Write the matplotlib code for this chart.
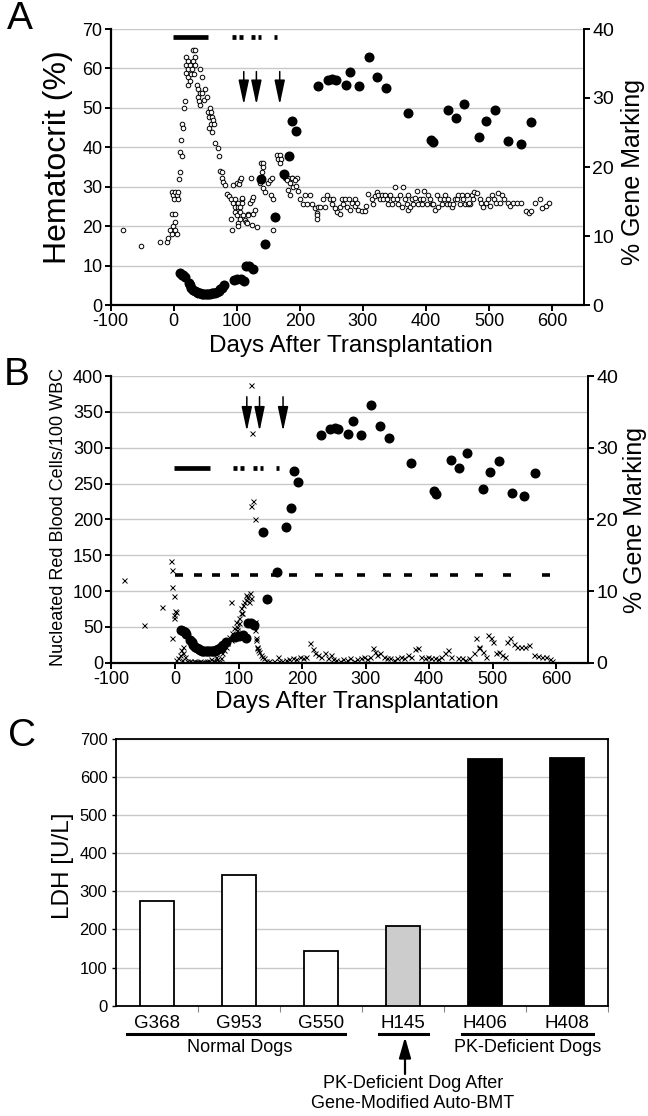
import matplotlib
matplotlib.use('Agg')
import matplotlib.pyplot as plt
from matplotlib.lines import Line2D

plt.rcParams['font.family'] = ['Liberation Sans', 'DejaVu Sans']
plt.rcParams['axes.unicode_minus'] = False

# ---------------- Panel A: hematocrit (open circles, left axis) ----------------
hct_day = [-80, -52, -22, -10, -9, -6, -3, -3, -3, -1, -1, 1, 2, 2, 2, 2, 5, 5, 7, 7, 8, 10,
           10, 11.5, 12.6, 13.6, 15.2, 16.8, 17.8, 18.9, 18.9, 20, 22, 23, 23, 23, 25.8, 25.8, 27.4,
           28.4, 31, 31, 32.6, 33.7, 33.7, 33.7, 36.3, 39, 39, 40, 41.6, 41.6, 41.6, 45.3, 45.3, 48,
           49.6, 52.2, 55, 56, 56, 57.5, 59, 59, 61, 61, 62.8, 64.4, 65.4, 69.6, 72.3, 73.9, 76.7,
           76, 78.6, 81.3, 83.9, 87.6, 90.8, 90.8, 92, 94.5, 94.5, 97, 97, 97, 99.8, 99.8, 101.4,
           101.4, 102.4, 102.4, 103.5, 105, 105, 105, 106.4, 107.7, 108.7, 105, 107.7, 110.4, 113,
           114.6, 115.6, 117.2, 118.3, 120.9, 122.3, 123.6, 123.6, 126.2, 126.2, 128.9, 131.5, 136.8,
           139.4, 138.8, 142.1, 140.7, 142.1, 144.7, 150, 152.6, 153.7, 155.3, 156.9, 157.9, 163.9,
           168.5, 165.9, 170.5, 169.2, 175.8, 180.4, 187, 194.9,
           171.7, 176.4, 179, 187, 192.3, 184.3, 189.6, 193.9, 181.7, 184.3, 197.6, 200.2, 208.2,
           216.1, 205.5, 210.8, 218.7, 224, 226.6, 229.3, 227.7, 226.6, 232, 236.2, 239.9, 242.5,
           247.8, 250.4, 253.1, 255.7, 258.4, 263.7, 263.7, 266.3, 271.6, 269, 274.3, 279.5, 278.5,
           282.2, 287.5, 287.5, 290, 292.7, 298, 303.3, 304.9, 308.6, 313.9, 316.5, 319.2, 321.9,
           324.5, 327, 329.8, 332, 335.1, 337.6, 340, 342.9, 345.6, 348, 350.9, 353.5, 356.2, 359,
           364.1, 361.5, 366.7, 369.4, 372.1, 372, 374.7, 377.4, 380, 382.6, 385.3, 388, 390.6, 393,
           394.9, 397, 401.2, 403.8, 406.5, 409, 411.8, 414.4, 417.1, 419.7, 422.4, 425, 427.7, 430,
           432.9, 435, 438.2, 440.9, 443.5, 446, 448.8, 451.4, 454.1, 456.7, 459.4, 462, 464.7,
           467.3, 470, 472.6, 475.3,
           467.9, 474.5, 481.1, 485, 487.7, 491, 494.3, 498.9, 501, 504.2, 507, 510.8, 514, 517.4,
           520, 524, 529.3, 533.9, 538, 543.8, 550.4, 558.4, 563.7, 567, 572.3, 580.2, 583.5,
           590.1, 595.4]
hct_val = [19, 15, 16, 16, 17, 19, 18, 23, 28.7, 20, 27.9, 26.9, 28.7, 23, 21, 19, 18, 27.9, 28.7,
           26.9, 32, 33.8,
           38.9, 41.8, 37.9, 45.8, 44.8, 49.9, 51.7, 58.8, 60.9, 62.8, 59.9, 61.9, 57.7, 55.8, 56.8,
           60.9, 58.7, 59.9, 61.9, 64.8, 58.7, 62.9, 60.9, 64.8, 55.8, 54.8, 52.8, 51.7, 59.9, 53.7,
           50.7, 57.7, 53.7, 52, 54.8, 52.8, 48.9, 47.8, 44.8, 49.9, 48.9, 45.8, 47.8, 43.8, 46.9,
           45.8, 41, 39.9, 37.9, 34, 33.7, 32.1, 31.3, 30.4, 28.2, 27.6, 26.8, 21.7, 19, 30.4, 25.8,
           26.8, 24.8, 23.7, 31, 22.8, 25.8, 20.9, 24.8, 20, 30.7, 31.7, 23.7, 21.7, 32.2, 26.8,
           25.8, 24.9, 27.1, 22.8, 21.6, 21.1, 20.7, 23.1, 22.8, 25.8, 32.2, 26.6, 20.3, 27.5, 23.2,
           24.1, 19.9, 30.9, 33.8, 35.9, 36, 35, 29.6, 28.7, 30.9, 31.7, 27.9, 32.2, 26.8, 18.9,
           38.1, 38.1, 37, 37, 36, 32.2, 32.2, 32.2, 32.2,
           33.4, 32.5, 31.7, 32.1, 31.7, 30.9, 30, 30.2, 29.2, 27.9, 29, 26.8, 27.9, 27.9, 25.6,
           25.6, 25.6, 24.5, 23.4, 24.9, 22.8, 21.7, 24.9, 26.8, 24.9, 27.9, 26.8, 25.6, 26.8, 24.5,
           23.7, 23.1, 24.9, 26.8, 26.8, 25.6, 24.9, 24.1, 26.8, 25.8, 26.8, 25.1, 25.8, 24.1, 23.9,
           23.9, 25.1, 28.2, 26.8, 25.6, 27.6, 28.7, 27.9, 26.8, 27.9, 26.8, 27.9, 26.8, 25.6, 27.9,
           25.6, 26.8, 30, 26.8, 25.6, 27.9, 30, 24.9, 26.8, 25.6, 24.1, 27.9, 24.9, 26.8, 25.6,
           27.1, 29, 25.6, 26.8, 25.6, 26.8, 29, 25.6, 27.9, 26.8, 25.6, 25.6, 24.1, 27.9, 24.9,
           26.8, 25.6, 26.8, 27.9, 25.6, 26.8, 25.6, 24.9, 25.6, 26.8, 26.8, 27.9, 25.6, 27.9, 26.8,
           25.6, 27.9, 25.6, 25.6, 27.9, 28.7,
           25.9, 26.9, 28.3, 27, 25.9, 24.9, 25.9, 26.9, 25, 28, 26.9, 25.9, 28.3, 25.9, 28, 26.9,
           25.9, 25.1, 25.9, 25.9, 25.9, 23.8, 23.4, 23.8, 25.9, 26.9, 24.6, 25.2, 25.9]

# ---------------- Gene marking (filled circles, right axis, panels A and B) ----------------
gm_day = [10, 13, 15, 18, 24, 26, 28, 31, 34, 37, 39, 42, 44, 47, 50, 52, 55, 58, 60, 63, 65, 68,
          71, 74, 76, 80, 95, 100, 107, 111, 115, 119, 125, 139, 145, 161, 174, 182, 187, 194,
          229, 244, 251, 257, 273, 280, 293, 309, 322, 336, 371, 408, 411, 435, 447, 460, 484,
          495, 510, 530, 550, 567]
gm_val = [4.6, 4.4, 4.3, 4.0, 3.2, 2.9, 2.4, 2.2, 2.1, 1.9, 1.8, 1.7, 1.6, 1.6, 1.6, 1.6, 1.6, 1.6,
          1.7, 1.7, 1.8, 1.9, 2.1, 2.3, 2.4, 2.9, 3.6, 3.7, 3.8, 3.5, 5.6, 5.6, 5.2, 18.2, 8.9,
          12.7, 19.0, 21.6, 26.7, 25.2, 31.7, 32.6, 32.8, 32.6, 31.9, 33.7, 31.8, 36.0, 33.0, 31.4,
          27.8, 23.9, 23.6, 28.3, 27.1, 29.2, 24.3, 26.6, 28.2, 23.7, 23.3, 26.5]

# treatment periods (bars at top) and infusion arrows
treat_start = [-2, 92, 103, 123, 133, 159]
treat_end = [55, 98, 109, 129, 139, 164]
arrow_days = [111, 131, 168]

# ---------------- Panel B: nucleated RBC (crosses, left axis) ----------------
nrbc_day = [-80, -49, -20, -6, -5, -4, -1, 0, 2, -1, -2, -5,
            1, 5, 8, 10, 12, 13, 16, 11, 19, 21, 24, 27, 30, 32, 35, 37, 40, 43, 46, 48, 51, 53,
            56, 59, 61, 64, 66, 69, 72, 74, 77, 80, 82, 85, 88, 88, 90, 93, 96, 97, 98, 100, 101,
            104, 104, 106, 107, 109, 111, 112, 114, 117, 118, 120, 119, 121, 119, 123, 126, 126,
            126, 127, 129, 130, 127, 129, 132, 135, 137, 140, 143, 148, 156, 164, 162, 169, 175,
            180, 185, 190, 196, 201, 206, 212, 217, 220, 225, 230, 236, 241, 246, 249, 254, 260,
            265, 270, 276, 281, 286, 292, 297, 302, 307, 312, 315, 318, 323, 329, 334, 339, 345,
            350, 355, 361, 366, 371, 377, 382, 387, 393, 398, 403, 409, 414, 419, 425, 430, 435,
            446, 451, 456, 462, 470, 474, 478, 479, 485, 489, 493, 497, 500, 505, 510, 515, 520,
            523, 528, 533, 538, 544, 551, 557, 565, 571, 577, 584, 590, 593]
nrbc_val = [115, 52, 78, 142, 129, 105, 93, 72, 71, 63, 67, 34,
            4, 6, 11, 18, 22, 13, 8, 4, 3, 1.4, 2, 1.4, 2, 1.4, 1, 1.4, 2, 1.4, 1, 1.4, 2, 2.3,
            4.7, 3, 2.8, 8.4, 4.7, 1.4, 6, 13, 18, 22, 27, 36, 85, 32, 41, 48, 57, 46, 50, 62, 55,
            69, 76, 69, 80, 85, 94, 87, 92, 85, 97, 90, 388, 320, 219, 226, 200, 57,
            46, 34, 22, 18, 32, 20, 15, 11, 8, 6, 3, 3, 3, 3, 8, 3, 4,
            5, 6, 5, 7.5, 6, 8, 28, 19, 14, 11, 8, 13, 7, 11, 5, 4, 3,
            5, 4, 6, 3, 5, 7, 8, 5, 8, 20, 15, 11, 13, 8, 6, 7, 4,
            6, 8, 7, 11, 8, 19, 21, 8, 7, 8, 6, 7, 5, 8, 13, 18, 8,
            6, 7, 4, 7, 13, 34, 22, 20, 15, 8, 39, 34, 29, 13, 15, 11, 8,
            29, 34, 26, 22, 22, 22, 25, 11, 9, 8, 8, 5, 3]

# reference dashes in panel B
ref_day = [6, 36, 65, 94, 124, 158, 186, 227, 258, 293, 333, 367, 407, 439, 478, 523, 584]
ref_level = 123

# ---------------- Panel C: LDH ----------------
dogs = ['G368', 'G953', 'G550', 'H145', 'H406', 'H408']
ldh = [275, 343, 143, 208, 647, 650]
bar_colors = ['white', 'white', 'white', '#cccccc', 'black', 'black']

# =============================== drawing ===============================
W, H = 648, 1116
fig = plt.figure(figsize=(W / 100, H / 100), dpi=100)


def fx(x):
    return x / W


def fy(y):
    return 1 - y / H


GRID = '#c8c8c8'
TICK_FS = 13


def style_timecourse(ax, ax2, lmax, lstep):
    ax.set_xlim(-100, 650)
    ax.set_ylim(0, lmax)
    ax.set_yticks(range(0, lmax + 1, lstep))
    ax.set_xticks(range(-100, 601, 100))
    ax2.set_ylim(0, 40)
    ax2.set_yticks(range(0, 41, 10))
    ax.yaxis.grid(True, color=GRID, lw=1.0)
    ax.set_axisbelow(True)
    for s in ['top', 'right']:
        ax.spines[s].set_visible(False)
    for s in ['top', 'left', 'bottom']:
        ax2.spines[s].set_visible(False)
    ax.spines['left'].set_linewidth(1.6)
    ax.spines['bottom'].set_linewidth(1.6)
    ax2.spines['right'].set_linewidth(1.4)
    ax.tick_params(axis='both', direction='out', length=4, width=1.4, labelsize=TICK_FS, pad=2)
    ax2.tick_params(axis='y', direction='out', length=4, width=1.4, labelsize=TICK_FS + 1, pad=2)


# ----- Panel A -----
axA = fig.add_axes([fx(110.7), fy(305), fx(473), 276 / H])
axA2 = axA.twinx()
style_timecourse(axA, axA2, 70, 10)
axA.plot(hct_day, hct_val, 'o', ms=3.3, mfc='white', mec='black', mew=0.7, zorder=3)
axA.hlines([68] * len(treat_start), treat_start, treat_end, colors='black', lw=3.4,
           capstyle='butt', zorder=4)
for d in arrow_days:
    axA.annotate('', xy=(d, 50.8), xytext=(d, 59.2),
                 arrowprops=dict(arrowstyle='-|>,head_length=0.75,head_width=0.16',
                                 color='black', lw=1.1, mutation_scale=20,
                                 shrinkA=0, shrinkB=0))
axA2.plot(gm_day, gm_val, 'o', ms=6.2, color='black', zorder=5)

# ----- Panel B -----
axB = fig.add_axes([fx(111.5), fy(662.7), fx(476.5), 286.7 / H])
axB2 = axB.twinx()
style_timecourse(axB, axB2, 400, 50)
axB.plot(nrbc_day, nrbc_val, 'x', ms=3.6, color='black', mew=0.7, zorder=3)
axB.plot(ref_day, [ref_level] * len(ref_day), '_', ms=5.5, mew=2.6, color='black', zorder=3)
axB.hlines([271] * len(treat_start), treat_start, treat_end, colors='black', lw=3.4,
           capstyle='butt', zorder=4)
for d in arrow_days:
    axB.annotate('', xy=(d + 2, 323), xytext=(d + 2, 371),
                 arrowprops=dict(arrowstyle='-|>,head_length=0.75,head_width=0.16',
                                 color='black', lw=1.1, mutation_scale=20,
                                 shrinkA=0, shrinkB=0))
axB2.plot(gm_day, gm_val, 'o', ms=6.2, color='black', zorder=5)

# ----- Panel C -----
axC = fig.add_axes([fx(115.8), fy(1005.7), fx(492.5), 267 / H])
xs = list(range(len(dogs)))
axC.bar(xs, ldh, width=0.41, color=bar_colors, edgecolor='black', linewidth=1.3, zorder=3)
axC.set_xlim(-0.5, len(dogs) - 0.5)
axC.set_ylim(0, 700)
axC.set_yticks(range(0, 701, 100))
axC.yaxis.grid(True, color=GRID, lw=1.0)
axC.set_axisbelow(True)
axC.set_xticks(xs)
axC.set_xticklabels(dogs)
axC.set_xticks([i + 0.5 for i in range(len(dogs))], minor=True)
axC.tick_params(axis='x', which='major', length=0, labelsize=13.5, pad=7)
axC.tick_params(axis='x', which='minor', length=4, width=0.8, color='#888888')
axC.tick_params(axis='y', length=3, width=1, labelsize=12, pad=3)
for s in axC.spines.values():
    s.set_linewidth(1.3)

# ----- text -----
fig.text(fx(20), fy(19), 'A', fontsize=28, ha='center', va='center')
fig.text(fx(17), fy(375), 'B', fontsize=28, ha='center', va='center')
fig.text(fx(22), fy(736), 'C', fontsize=28, ha='center', va='center')

fig.text(fx(58), fy(157), 'Hematocrit (%)', fontsize=23, rotation=90, ha='center', va='center')
fig.text(fx(633), fy(172), '% Gene Marking', fontsize=18, rotation=90, ha='center', va='center')
fig.text(fx(351), fy(346), 'Days After Transplantation', fontsize=17.5, ha='center', va='center')

fig.text(fx(59), fy(517), 'Nucleated Red Blood Cells/100 WBC', fontsize=13, rotation=90,
         ha='center', va='center')
fig.text(fx(635), fy(520), '% Gene Marking', fontsize=18, rotation=90, ha='center', va='center')
fig.text(fx(357), fy(702), 'Days After Transplantation', fontsize=17.5, ha='center', va='center')

fig.text(fx(63), fy(866), 'LDH [U/L]', fontsize=17.5, rotation=90, ha='center', va='center')

for x1, x2 in [(127, 345), (379, 428), (462, 593)]:
    fig.add_artist(Line2D([fx(x1), fx(x2)], [fy(1034), fy(1034)], lw=2.2, color='black'))
fig.text(fx(240), fy(1047), 'Normal Dogs', fontsize=13, ha='center', va='center')
fig.text(fx(528), fy(1047), 'PK-Deficient Dogs', fontsize=13, ha='center', va='center')
axC.annotate('', xy=(fx(405), fy(1037)), xytext=(fx(405), fy(1074)),
             xycoords='figure fraction', textcoords='figure fraction', annotation_clip=False,
             arrowprops=dict(arrowstyle='-|>,head_length=0.7,head_width=0.2',
                             color='black', lw=1.6, mutation_scale=18, shrinkA=0, shrinkB=0))
fig.text(fx(413), fy(1083), 'PK-Deficient Dog After', fontsize=13, ha='center', va='center')
fig.text(fx(413), fy(1104), 'Gene-Modified Auto-BMT', fontsize=13, ha='center', va='center')

fig.savefig('out.png', dpi=100)
